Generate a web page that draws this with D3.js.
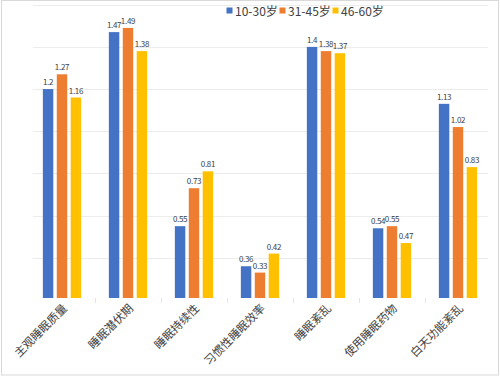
<!DOCTYPE html>
<html>
<head>
<meta charset="utf-8">
<script src="https://cdn.jsdelivr.net/npm/d3@7"></script>
<style>
  html, body { margin: 0; padding: 0; background: #fff; }
  svg { display: block; }
</style>
</head>
<body>
<script>
const categories = ["主观睡眠质量", "睡眠潜伏期", "睡眠持续性", "习惯性睡眠效率", "睡眠紊乱", "使用睡眠药物", "白天功能紊乱"];
const seriesNames = ["10-30岁", "31-45岁", "46-60岁"];
const series1 = [1.2, 1.47, 0.55, 0.36, 1.4, 0.54, 1.13];
const series2 = [1.27, 1.49, 0.73, 0.33, 1.38, 0.55, 1.02];
const series3 = [1.16, 1.38, 0.81, 0.42, 1.37, 0.47, 0.83];
const yTicks = [0.2, 0.4, 0.6, 0.8, 1.0, 1.2, 1.4, 1.6];
const colors = ["#4472C4", "#ED7D31", "#FFC000"];

const allSeries = [series1, series2, series3];
const W = 500, H = 377;
const font = "'Noto Sans CJK SC', 'Noto Sans', sans-serif";

const svg = d3.select("body").append("svg").attr("width", W).attr("height", H);

// outer border
svg.append("rect").attr("x", 1.5).attr("y", 0.5).attr("width", W - 3).attr("height", H - 2.5)
  .attr("fill", "#fff").attr("stroke", "#d9d9d9").attr("stroke-width", 1);

const x = d3.scaleBand().domain(categories).range([29, 491]).paddingInner(0).paddingOuter(0);
const x1 = d3.scaleBand().domain([0, 1, 2]).range([0, 38.3]).paddingInner(0.25).paddingOuter(0);
const y = d3.scaleLinear().domain([0.2, 1.6]).range([300, 4.7]);

// gridlines
svg.append("g").selectAll("line").data(yTicks.filter(t => t > 0.2)).join("line")
  .attr("x1", 33).attr("x2", 488)
  .attr("y1", d => Math.round(y(d)) + 0.5).attr("y2", d => Math.round(y(d)) + 0.5)
  .attr("stroke", "#ececec").attr("stroke-width", 1);

// category boundary tick marks
svg.append("g").selectAll("line").data(categories.slice(1)).join("line")
  .attr("x1", d => Math.round(x(d)) + 0.5).attr("x2", d => Math.round(x(d)) + 0.5)
  .attr("y1", 298).attr("y2", 303)
  .attr("stroke", "#e4e4e4").attr("stroke-width", 1);

// bars
const groups = svg.append("g").selectAll("g").data(categories).join("g")
  .attr("transform", d => `translate(${x(d) + (x.bandwidth() - 38.3) / 2},0)`);

groups.each(function(cat, ci) {
  const g = d3.select(this);
  allSeries.forEach((s, si) => {
    const v = s[ci];
    g.append("rect")
      .attr("x", x1(si)).attr("width", x1.bandwidth())
      .attr("y", y(v)).attr("height", y(0.2) - y(v) - 2)
      .attr("fill", colors[si]);
    g.append("text")
      .attr("x", x1(si) + x1.bandwidth() / 2).attr("y", y(v) - 4)
      .attr("text-anchor", "middle")
      .attr("font-family", font).attr("font-size", 8)
      .attr("letter-spacing", -0.3)
      .attr("fill", "#404040")
      .text(v);
  });
});

// x labels rotated
svg.append("g").selectAll("text").data(categories).join("text")
  .attr("transform", d => `translate(${x(d) + x.bandwidth() / 2 + 6},${309}) rotate(-45)`)
  .attr("text-anchor", "end")
  .attr("font-family", font).attr("font-size", 11.5)
  .attr("fill", "#404040")
  .text(d => d);

// legend
const legendX = [226.5, 279.5, 332.5];
const legend = svg.append("g");
seriesNames.forEach((n, i) => {
  legend.append("rect").attr("x", legendX[i]).attr("y", 7.5).attr("width", 6).attr("height", 6).attr("fill", colors[i]);
  legend.append("text").attr("x", legendX[i] + 8.5).attr("y", 15.5)
    .attr("font-family", font).attr("font-size", 12).attr("fill", "#404040").text(n);
});
</script>
</body>
</html>
